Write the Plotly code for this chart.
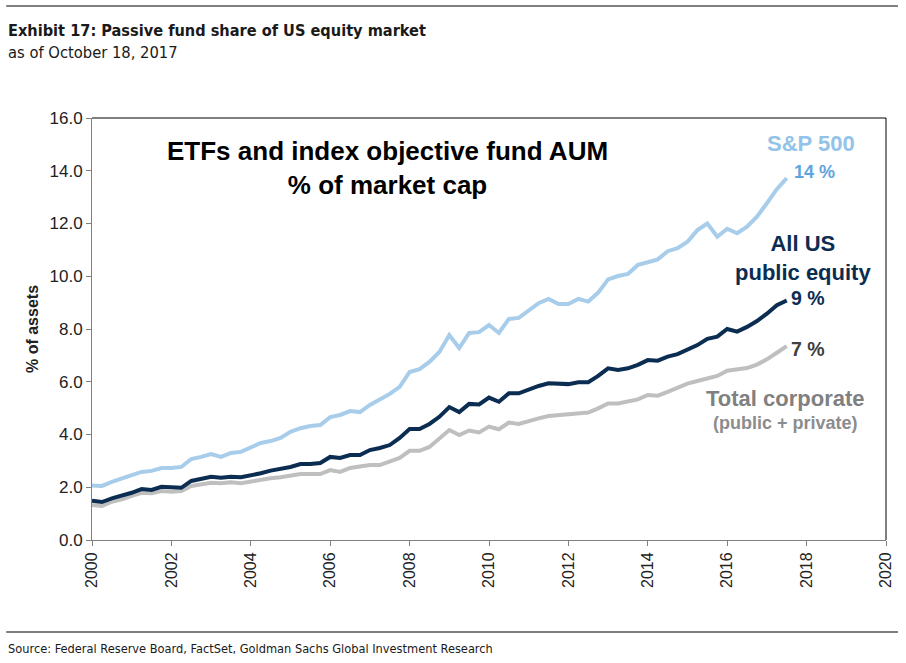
import plotly.graph_objects as go

# Quarterly dates, 2000 Q1 .. 2017 Q3 (71 points)
years = [2000 + 0.25 * k for k in range(71)]

sp500 = [2.07, 2.05, 2.20, 2.35, 2.46, 2.58, 2.62, 2.73, 2.73, 2.77,
         3.07, 3.15, 3.26, 3.15, 3.30, 3.34, 3.49, 3.68, 3.75, 3.87,
         4.10, 4.24, 4.32, 4.36, 4.66, 4.74, 4.89, 4.85, 5.12, 5.34,
         5.54, 5.81, 6.37, 6.48, 6.75, 7.13, 7.77, 7.28, 7.85, 7.88,
         8.15, 7.85, 8.38, 8.42, 8.72, 8.98, 9.14, 8.95, 8.95, 9.14,
         9.04, 9.38, 9.88, 10.01, 10.09, 10.43, 10.53, 10.64, 10.95, 11.06,
         11.31, 11.75, 12.00, 11.50, 11.80, 11.63, 11.88, 12.26, 12.77, 13.30,
         13.72]

all_us = [1.49, 1.44, 1.58, 1.67, 1.79, 1.93, 1.90, 2.02, 2.00, 1.98,
          2.24, 2.31, 2.40, 2.36, 2.40, 2.38, 2.44, 2.53, 2.63, 2.69,
          2.77, 2.88, 2.88, 2.92, 3.15, 3.11, 3.22, 3.22, 3.41, 3.49,
          3.60, 3.87, 4.21, 4.21, 4.40, 4.67, 5.04, 4.85, 5.16, 5.14,
          5.40, 5.24, 5.56, 5.56, 5.71, 5.84, 5.94, 5.94, 5.91, 5.98,
          5.98, 6.22, 6.51, 6.45, 6.51, 6.64, 6.82, 6.80, 6.95, 7.05,
          7.23, 7.39, 7.63, 7.71, 8.00, 7.90, 8.08, 8.30, 8.58, 8.90,
          9.08]

total_corp = [1.33, 1.29, 1.45, 1.54, 1.67, 1.79, 1.77, 1.86, 1.83, 1.86,
              2.05, 2.12, 2.17, 2.15, 2.19, 2.15, 2.21, 2.30, 2.34, 2.38,
              2.43, 2.50, 2.50, 2.50, 2.65, 2.58, 2.73, 2.77, 2.84, 2.84,
              2.96, 3.11, 3.38, 3.38, 3.53, 3.87, 4.17, 3.98, 4.15, 4.08,
              4.30, 4.20, 4.45, 4.40, 4.52, 4.61, 4.70, 4.74, 4.77, 4.80,
              4.83, 4.99, 5.18, 5.18, 5.24, 5.33, 5.50, 5.47, 5.62, 5.78,
              5.93, 6.03, 6.13, 6.22, 6.42, 6.47, 6.52, 6.65, 6.85, 7.10,
              7.35]

x_ticks = list(range(2000, 2021, 2))
y_ticks = [0, 2, 4, 6, 8, 10, 12, 14, 16]

C_SP = "#A7CDEB"
C_US = "#0B2D52"
C_TC = "#BFBFBF"

AX_FONT = "Liberation Sans, Arial, sans-serif"
NARROW = "DejaVu Sans Condensed, Liberation Sans Narrow, sans-serif"

fig = go.Figure()
fig.add_trace(go.Scatter(x=years, y=total_corp, mode="lines",
                         line=dict(color=C_TC, width=4), name="Total corporate"))
fig.add_trace(go.Scatter(x=years, y=all_us, mode="lines",
                         line=dict(color=C_US, width=4), name="All US public equity"))
fig.add_trace(go.Scatter(x=years, y=sp500, mode="lines",
                         line=dict(color=C_SP, width=4), name="S&P 500"))

ann = []
def A(text, x, y, size, color, xanchor="center", yanchor="middle", xref="x", yref="y", font=AX_FONT, align="center"):
    ann.append(dict(text=text, x=x, y=y, xref=xref, yref=yref, showarrow=False,
                    xanchor=xanchor, yanchor=yanchor, align=align,
                    font=dict(family=font, size=size, color=color)))

A("<b>ETFs and index objective fund AUM<br>% of market cap</b>", 2007.45, 14.12, 26, "#000000")
A("<b>S&P 500</b>", 2018.12, 15.05, 22, "#93C3E8")
A("<b>14 %</b>", 2017.62, 13.95, 18, "#5FA5DD", xanchor="left")
A("<b>All US<br>public equity</b>", 2017.91, 10.69, 22, C_US)
A("<b>9 %</b>", 2017.55, 9.18, 19.5, C_US, xanchor="left")
A("<b>7 %</b>", 2017.55, 7.24, 19.5, "#404040", xanchor="left")
A("<b>Total corporate</b>", 2017.46, 5.38, 22, "#808080")
A("<b>(public + private)</b>", 2017.46, 4.44, 18, "#8C8C8C")

# Header / footer text (paper coords)
H = 663.0
W = 906.0
def P(text, px, py, size, color, bold=False, font=NARROW):
    t = f"<b>{text}</b>" if bold else text
    ann.append(dict(text=t, x=px, y=py, xref="paper", yref="paper", showarrow=False,
                    xanchor="left", yanchor="middle",
                    font=dict(family=font, size=size, color=color)))

ml, mr, mt, mb = 92, 18, 118, 123
pw = W - ml - mr
ph = H - mt - mb
def px2x(p):
    return (p - ml) / pw
def py2y(p):
    return (H - mb - p) / ph

P("Exhibit 17: Passive fund share of US equity market", px2x(6), py2y(30), 16.2, "#1a1a1a", bold=True)
P("as of October 18, 2017", px2x(6), py2y(53), 16.4, "#1a1a1a")
P("Source: Federal Reserve Board, FactSet, Goldman Sachs Global Investment Research", px2x(6), py2y(648), 12.7, "#1a1a1a")

shapes = [
    dict(type="line", xref="paper", yref="paper", x0=px2x(6), x1=px2x(900), y0=py2y(6), y1=py2y(6),
         line=dict(color="#7F7F7F", width=2)),
    dict(type="line", xref="paper", yref="paper", x0=px2x(6), x1=px2x(900), y0=py2y(632), y1=py2y(632),
         line=dict(color="#7F7F7F", width=2)),
    dict(type="line", xref="x domain", yref="y domain", x0=0, x1=1, y0=1, y1=1,
         line=dict(color="#000000", width=1)),
    dict(type="line", xref="x domain", yref="y domain", x0=1, x1=1, y0=0, y1=1,
         line=dict(color="#000000", width=1)),
]

fig.update_layout(
    width=906, height=663,
    margin=dict(l=ml, r=mr, t=mt, b=mb),
    paper_bgcolor="white", plot_bgcolor="white",
    showlegend=False,
    annotations=ann, shapes=shapes,
    font=dict(family=AX_FONT, color="#222222"),
)
fig.update_xaxes(range=[2000, 2020], tickvals=x_ticks, ticktext=[str(v) for v in x_ticks],
                 tickangle=-90, showgrid=False, zeroline=False,
                 showline=True, linecolor="#808080", linewidth=1,
                 ticks="outside", ticklen=5, tickcolor="#808080",
                 tickfont=dict(family=AX_FONT, size=16, color="#222222"))
fig.update_yaxes(range=[0, 16], tickvals=y_ticks, ticktext=[f"{v:.1f}" for v in y_ticks],
                 showgrid=False, zeroline=False,
                 showline=True, linecolor="#808080", linewidth=1,
                 ticks="outside", ticklen=5, tickcolor="#808080",
                 tickfont=dict(family=AX_FONT, size=17, color="#222222"),
                 title=dict(text="<b>% of assets</b>", font=dict(family=AX_FONT, size=16, color="#222222"),
                            standoff=6))

fig.write_html("out.html")
